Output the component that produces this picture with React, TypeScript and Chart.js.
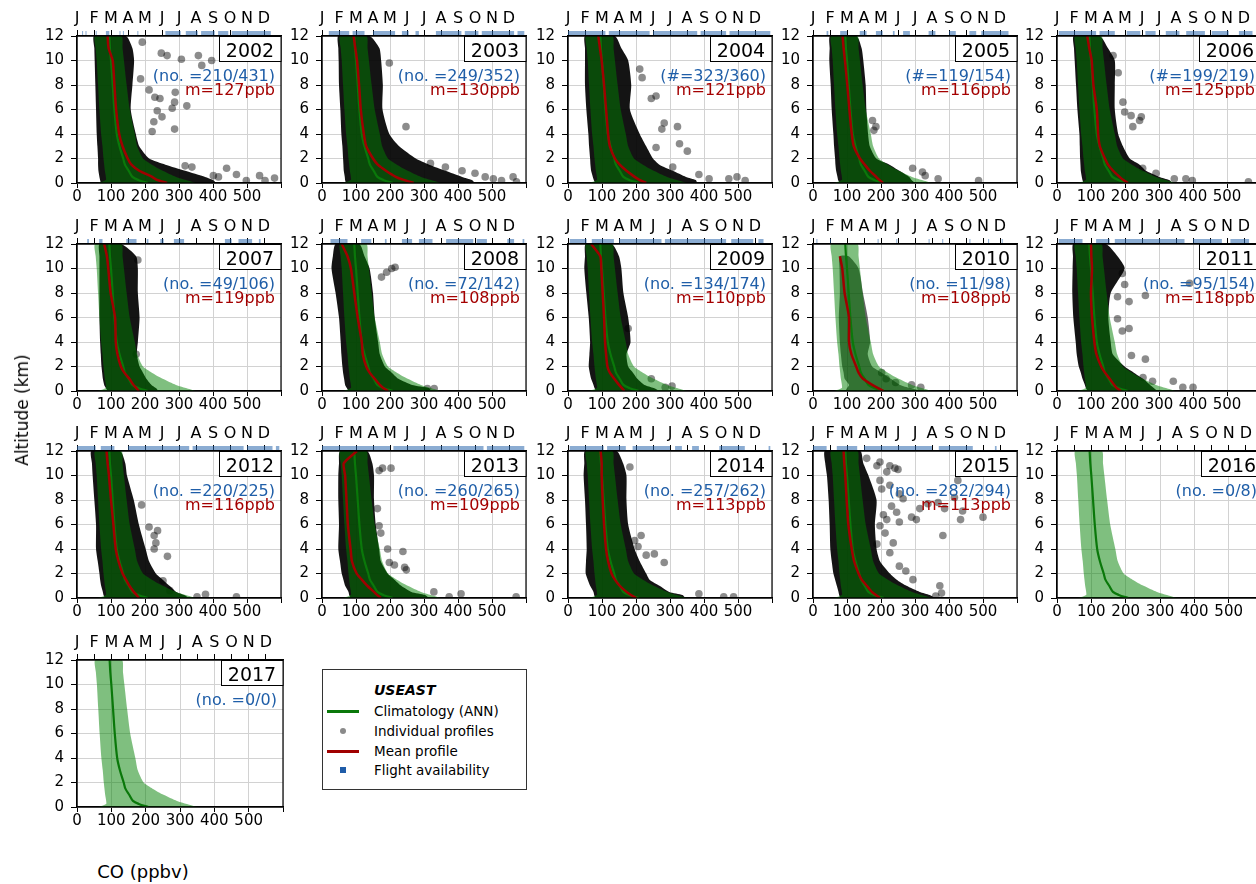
import React, { useEffect, useRef } from "react";
import { Chart, registerables } from "chart.js";

Chart.register(...registerables);

const FONT = "'DejaVu Sans', 'Liberation Sans', sans-serif";

// ---------- categories / labels ----------
const YEARS = [2002, 2003, 2004, 2005, 2006, 2007, 2008, 2009, 2010, 2011, 2012, 2013, 2014, 2015, 2016, 2017];
const MONTHS = ["J", "F", "M", "A", "M", "J", "J", "A", "S", "O", "N", "D"];
const CO_TICKS = [0, 100, 200, 300, 400, 500];
const ALT_TICKS = [0, 2, 4, 6, 8, 10, 12];

const COUNT_LABELS = [
  "(no. =210/431)", "(no. =249/352)", "(#=323/360)", "(#=119/154)", "(#=199/219)",
  "(no. =49/106)", "(no. =72/142)", "(no. =134/174)", "(no. =11/98)", "(no. =95/154)",
  "(no. =220/225)", "(no. =260/265)", "(no. =257/262)", "(no. =282/294)", "(no. =0/8)", "(no. =0/0)",
];
const MEAN_LABELS = [
  "m=127ppb", "m=130ppb", "m=121ppb", "m=116ppb", "m=125ppb",
  "m=119ppb", "m=108ppb", "m=110ppb", "m=108ppb", "m=118ppb",
  "m=116ppb", "m=109ppb", "m=113ppb", "m=113ppb", "", "",
];

// ---------- altitude levels (km) ----------
const ALT = [0, 0.25, 0.5, 1, 1.5, 2, 3, 4, 6, 8, 10, 11, 12];

// ---------- climatology (ANN), ppbv ----------
const CLIM_MEAN = [208, 180, 163, 152, 141, 136, 125, 117, 110, 105, 100, 97, 95];
const CLIM_LO = [62, 85, 85, 82, 80, 78, 75, 71, 66, 62, 58, 55, 53];
const CLIM_HI = [350, 320, 291, 252, 220, 194, 177, 170, 155, 146, 138, 134, 131];

// ---------- individual profile envelope (low edge), per year ----------
const CLOUD_LO = [
  [70, 68, 66, 63, 62, 62, 60, 58, 56, 54, 52, 51, 50],
  [70, 68, 67, 64, 63, 62, 60, 57, 54, 50, 49, 48, 48],
  [80, 76, 73, 68, 66, 65, 62, 60, 54, 50, 50, 50, 50],
  [78, 74, 72, 68, 66, 65, 62, 60, 55, 52, 48, 49, 50],
  [78, 75, 73, 70, 69, 68, 67, 66, 60, 56, 52, 50, 49],
  [90, 85, 80, 76, 74, 72, 70, 68, 66, 66, 66, 66, 66],
  [78, 73, 68, 65, 62, 60, 57, 55, 50, 40, 28, 32, 40],
  [82, 78, 75, 68, 64, 61, 63, 65, 61, 54, 48, 50, 52],
  [95, 100, 106, 93, 90, 86, 82, 79, 76, 79, 78, 78, null],
  [90, 85, 82, 75, 70, 64, 58, 55, 48, 45, 46, 47, 48],
  [82, 78, 76, 71, 68, 66, 61, 56, 56, 51, 46, 44, 42],
  [84, 80, 78, 68, 63, 58, 53, 48, 50, 48, 48, 50, 53],
  [80, 77, 75, 65, 58, 52, 53, 55, 53, 50, 46, 48, 50],
  [80, 77, 75, 70, 65, 60, 55, 51, 49, 46, 41, 36, 35],
  null,
  null,
];

// ---------- individual profile envelope (high edge), per year ----------
const CLOUD_HI = [
  [410, 400, 377, 318, 260, 212, 183, 173, 158, 163, 168, 163, 144],
  [450, 441, 412, 363, 315, 276, 227, 198, 178, 179, 174, 169, 140],
  [380, 376, 347, 308, 269, 250, 230, 211, 182, 186, 177, 157, 138],
  [300, 290, 283, 254, 225, 186, 167, 162, 157, 155, 148, 143, 128],
  [340, 330, 301, 262, 243, 214, 194, 180, 170, 170, 170, 150, 126],
  [240, 232, 219, 204, 194, 184, 176, 179, 184, 179, 179, 174, 130],
  [320, 315, 265, 225, 205, 185, 170, 165, 155, 150, 140, 125, 110],
  [270, 252, 225, 204, 191, 177, 172, 184, 177, 163, 157, 150, 129],
  [320, 285, 256, 229, 202, 174, 161, 168, 161, 147, 134, 105, null],
  [295, 285, 274, 253, 226, 199, 164, 158, 151, 158, 199, 178, 144],
  [330, 315, 292, 272, 252, 232, 212, 202, 182, 167, 147, 142, 127],
  [315, 303, 263, 233, 213, 193, 173, 168, 158, 153, 153, 148, 133],
  [345, 337, 298, 269, 240, 230, 211, 196, 177, 172, 172, 162, 143],
  [360, 343, 314, 275, 246, 226, 197, 187, 182, 187, 163, 148, 139],
  null,
  null,
];

// ---------- mean profile, per year ----------
const MEAN_PROFILE = [
  [265, 235, 221, 183, 160, 149, 134, 124, 115, 110, 105, 93, 90],
  [270, 240, 217, 188, 164, 150, 130, 123, 114, 109, 103, 98, 93],
  [230, 210, 196, 172, 152, 138, 123, 118, 112, 106, 99, 94, 89],
  [206, 195, 186, 167, 152, 138, 120, 114, 107, 101, 94, 90, 87],
  [209, 195, 184, 165, 150, 141, 126, 121, 117, 107, 102, 95, 89],
  [182, 174, 166, 154, 139, 129, 119, 114, 112, 99, 92, 88, 80],
  [195, 180, 170, 155, 140, 130, 120, 117, 105, 95, 85, 75, 58],
  [166, 158, 150, 136, 123, 116, 112, 109, 106, 102, 98, 95, 68],
  [208, 190, 174, 147, 134, 127, 113, 106, 106, 93, 86, 79, null],
  [188, 175, 168, 155, 141, 130, 116, 110, 103, 100, 103, 101, 100],
  [182, 175, 167, 154, 144, 134, 122, 114, 107, 100, 94, 90, 87],
  [173, 162, 153, 133, 117, 102, 88, 84, 76, 72, 68, 64, 103],
  [201, 185, 172, 152, 138, 128, 118, 112, 106, 102, 99, 99, 96],
  [197, 185, 173, 158, 143, 134, 121, 114, 104, 99, 95, 92, 90],
  null,
  null,
];

// ---------- sparse individual profile points [CO ppbv, altitude km] ----------
const OUTLIERS = [
  [[248, 10.6], [265, 10.4], [357, 10.4], [307, 10.1], [367, 9.6], [396, 10.0], [192, 11.5], [187, 8.5], [212, 7.6], [229, 7.0], [244, 6.9], [289, 7.4], [287, 6.6], [280, 6.1], [323, 6.3], [236, 5.9], [250, 5.4], [221, 4.2], [287, 4.4], [226, 5.0], [318, 1.4], [338, 1.3], [401, 0.6], [440, 1.2], [469, 0.7], [416, 0.5], [498, 0.2], [537, 0.6], [553, 0.2], [581, 0.4]],
  [[198, 9.8], [247, 4.6], [319, 1.6], [363, 1.3], [412, 1.0], [450, 0.8], [480, 0.5], [504, 0.35], [528, 0.2], [562, 0.5], [572, 0.1]],
  [[211, 9.3], [218, 8.6], [245, 6.9], [259, 7.1], [276, 4.4], [283, 4.9], [322, 4.6], [328, 3.2], [351, 2.6], [259, 2.9], [385, 0.7], [415, 0.35], [473, 0.35], [497, 0.5], [521, 0.2], [308, 1.3]],
  [[175, 5.1], [185, 4.6], [179, 4.3], [293, 1.2], [322, 0.9], [330, 0.6], [368, 0.35], [487, 0.2]],
  [[165, 10.4], [180, 9.0], [194, 6.6], [199, 5.8], [218, 5.5], [248, 5.4], [243, 5.1], [223, 4.6], [252, 1.2], [291, 0.8], [345, 0.35], [379, 0.35], [398, 0.2], [563, 0.1]],
  [[179, 10.7], [174, 3.0]],
  [[175, 9.3], [190, 9.7], [205, 10.0], [215, 10.1], [310, 0.2], [330, 0.2]],
  [[245, 1.0], [286, 0.3], [306, 0.4], [177, 5.1]],
  [[215, 1.0], [243, 0.7], [290, 0.5], [317, 0.3], [202, 1.5]],
  [[192, 9.6], [199, 8.7], [178, 7.7], [260, 7.8], [178, 5.9], [192, 4.9], [212, 5.1], [219, 2.9], [260, 2.6], [253, 1.1], [281, 0.8], [342, 0.8], [370, 0.3], [400, 0.3], [390, 8.8], [212, 7.3]],
  [[190, 7.6], [212, 5.8], [237, 5.5], [227, 5.1], [232, 4.5], [227, 4.0], [266, 3.4], [253, 1.4], [273, 0.6], [353, 0.1], [378, 0.3], [469, 0.1]],
  [[168, 10.4], [178, 10.6], [203, 10.6], [163, 7.3], [168, 5.9], [173, 5.3], [193, 4.0], [198, 2.9], [213, 2.7], [238, 3.8], [243, 2.5], [248, 2.3], [329, 0.5], [374, 0.1], [409, 0.35], [571, 0.1]],
  [[215, 5.1], [196, 4.7], [206, 4.2], [254, 3.6], [283, 2.9], [230, 3.5], [385, 0.35], [458, 0.1], [487, 0.1], [182, 10.7]],
  [[158, 11.4], [197, 11.1], [188, 10.8], [226, 10.8], [241, 10.6], [250, 10.5], [217, 10.3], [197, 9.6], [202, 8.9], [226, 9.2], [254, 8.5], [265, 8.1], [231, 7.5], [246, 7.0], [207, 6.8], [217, 6.4], [197, 5.9], [254, 6.2], [290, 6.6], [304, 6.4], [314, 7.3], [338, 7.7], [368, 7.8], [387, 7.3], [416, 8.2], [426, 9.6], [440, 7.1], [434, 6.4], [500, 6.6], [236, 4.5], [226, 3.7], [254, 2.6], [273, 2.2], [294, 1.5], [378, 0.4], [382, 5.1], [373, 1.0], [361, 0.15], [212, 5.3], [188, 4.4]],
  [],
  [],
];

// ---------- flight availability periods, [start, end] in months from 1 Jan ----------
const FLIGHTS = [
  [[0.3, 0.35], [0.5, 0.55], [1.1, 1.15], [1.7, 1.9], [2.5, 2.55], [2.7, 2.75], [3.55, 3.6], [5.2, 6.1], [6.4, 7.1], [7.3, 8.1], [8.3, 8.9], [9.1, 11.4]],
  [[0.4, 1.6], [1.8, 2.5], [3.0, 4.3], [4.7, 5.1], [5.5, 5.7], [6.7, 8.2], [8.4, 9.2], [9.4, 11.3], [11.5, 11.9]],
  [[0.0, 2.2], [2.4, 4.8], [5.0, 7.6], [7.8, 9.3], [9.5, 11.9]],
  [[0.8, 0.9], [1.6, 2.0], [2.75, 3.15], [3.7, 4.1], [4.7, 4.8], [5.3, 5.7], [6.8, 7.2], [8.0, 8.4], [9.2, 9.6], [9.9, 11.5]],
  [[0.1, 2.3], [2.5, 3.4], [4.1, 4.9], [5.2, 5.8], [6.4, 7.2], [7.6, 8.7], [9.1, 10.1], [10.7, 11.5]],
  [[0.6, 0.7], [1.3, 1.5], [2.9, 3.5], [4.1, 4.2], [4.9, 5.1], [5.7, 6.3], [8.7, 9.1], [9.5, 10.3], [10.7, 10.8]],
  [[0.5, 1.5], [2.3, 2.9], [3.7, 3.8], [4.7, 5.3], [5.7, 6.5], [7.3, 8.9], [9.1, 9.7], [10.9, 11.3], [11.8, 11.9]],
  [[0.1, 1.1], [1.4, 2.7], [3.0, 5.5], [5.7, 9.3], [9.6, 10.9], [11.2, 11.5]],
  [[0.2, 0.25], [1.0, 1.05], [3.8, 3.85], [4.9, 4.95], [6.8, 6.85], [7.6, 7.65], [9.2, 9.25], [10.3, 10.35], [11.1, 11.15]],
  [[0.1, 1.5], [2.3, 3.1], [3.4, 7.5], [8.0, 9.7], [10.2, 11.3]],
  [[0.0, 1.1], [1.4, 2.2], [3.0, 6.6], [6.8, 9.8], [10.0, 11.5], [11.7, 11.9]],
  [[0.0, 4.0], [4.2, 9.5], [9.7, 11.9]],
  [[0.1, 2.1], [2.3, 3.4], [3.8, 6.0], [6.3, 6.7], [7.3, 7.7], [8.9, 10.4], [11.8, 11.9]],
  [[0.0, 0.8], [1.4, 2.6], [3.0, 7.0], [7.4, 9.4], [10.7, 10.8]],
  [],
  [],
];

// ---------- layout ----------
const COL_X = [77, 322, 568, 813, 1057];
const ROW_Y = [36, 244, 451, 660];
const PLOT_W = 206;
const PLOT_H = 147;
const LEFT_AX = 52;
const TOP_AX = 36;
const BOTTOM_AX = 24;
const RIGHT_PAD = 2;

const BLUE = "#1f5ea8";
const RED = "#a40000";

function profilePoints(values) {
  const pts = [];
  ALT.forEach((a, k) => {
    if (values[k] != null) pts.push({ x: values[k], y: a });
  });
  return pts;
}

function polygonPoints(lo, hi) {
  const pts = [];
  for (let k = 0; k < ALT.length; k++) if (lo[k] != null) pts.push({ x: lo[k], y: ALT[k] });
  for (let k = ALT.length - 1; k >= 0; k--) if (hi[k] != null) pts.push({ x: hi[k], y: ALT[k] });
  return pts;
}

function makeOverlay(i) {
  return {
    id: "overlay" + i,
    afterDraw(chart) {
      const { ctx, chartArea: a, scales } = chart;
      const xt = scales.xt;
      ctx.save();
      // flight availability rug
      ctx.fillStyle = "rgba(44,104,173,0.55)";
      FLIGHTS[i].forEach(([s, e]) => {
        const x0 = xt.getPixelForValue(s);
        const x1 = xt.getPixelForValue(e);
        ctx.fillRect(x0, a.top - 5, Math.max(1, x1 - x0), 4);
      });
      // frame
      ctx.strokeStyle = "#000";
      ctx.lineWidth = 1.2;
      ctx.strokeRect(a.left, a.top, a.right - a.left, a.bottom - a.top);
      // year box
      const bw = 62;
      const bh = 25;
      ctx.fillStyle = "#fff";
      ctx.fillRect(a.right - bw, a.top, bw, bh);
      ctx.lineWidth = 1;
      ctx.strokeRect(a.right - bw + 0.5, a.top + 0.5, bw - 0.5, bh);
      ctx.fillStyle = "#000";
      ctx.font = `19px ${FONT}`;
      ctx.textAlign = "center";
      ctx.textBaseline = "alphabetic";
      ctx.fillText(String(YEARS[i]), a.right - bw / 2, a.top + 21);
      // annotations
      ctx.textAlign = "right";
      ctx.font = `16px ${FONT}`;
      ctx.fillStyle = BLUE;
      ctx.fillText(COUNT_LABELS[i], a.right - 6, a.top + 45);
      if (MEAN_LABELS[i]) {
        ctx.fillStyle = RED;
        ctx.fillText(MEAN_LABELS[i], a.right - 6, a.top + 59);
      }
      ctx.restore();
    },
  };
}

function buildConfig(i) {
  const datasets = [];
  const out = OUTLIERS[i];
  if (out.length) {
    datasets.push({
      data: out.map(([x, y]) => ({ x, y })),
      showLine: false,
      pointRadius: 3.8,
      pointBackgroundColor: "rgba(0,0,0,0.45)",
      pointBorderWidth: 0,
      pointBorderColor: "transparent",
      order: 5,
    });
  }
  if (CLOUD_LO[i]) {
    datasets.push({
      data: polygonPoints(CLOUD_LO[i], CLOUD_HI[i]),
      fill: "shape",
      backgroundColor: YEARS[i] === 2010 ? "rgba(0,0,0,0.6)" : "rgba(0,0,0,0.92)",
      borderColor: "transparent",
      borderWidth: 0,
      pointRadius: 0,
      tension: 0.2,
      order: 4,
    });
  }
  datasets.push({
    data: polygonPoints(CLIM_LO, CLIM_HI),
    fill: "shape",
    backgroundColor: "rgba(0,128,0,0.5)",
    borderColor: "transparent",
    borderWidth: 0,
    pointRadius: 0,
    tension: 0.2,
    order: 3,
  });
  datasets.push({
    data: profilePoints(CLIM_MEAN),
    borderColor: "#0a780a",
    borderWidth: 2.2,
    pointRadius: 0,
    fill: false,
    tension: 0.3,
    order: 2,
  });
  if (MEAN_PROFILE[i]) {
    datasets.push({
      data: profilePoints(MEAN_PROFILE[i]),
      borderColor: "#a00000",
      borderWidth: 2.5,
      pointRadius: 0,
      fill: false,
      tension: 0.2,
      order: 1,
    });
  }
  datasets.forEach((d) => {
    d.type = "line";
    d.xAxisID = "x";
    d.yAxisID = "y";
  });

  const tickFont = { family: FONT, size: 15 };
  return {
    type: "line",
    data: { datasets },
    plugins: [makeOverlay(i)],
    options: {
      animation: false,
      responsive: false,
      events: [],
      layout: { padding: { left: 0, right: RIGHT_PAD, top: 0, bottom: 0 } },
      plugins: { legend: { display: false }, tooltip: { enabled: false } },
      scales: {
        x: {
          type: "linear",
          position: "bottom",
          min: 0,
          max: 600,
          afterFit: (s) => {
            s.height = BOTTOM_AX;
          },
          afterBuildTicks: (s) => {
            s.ticks = CO_TICKS.concat([600]).map((v) => ({ value: v }));
          },
          ticks: {
            autoSkip: false,
            maxRotation: 0,
            padding: 0,
            color: "#000",
            font: tickFont,
            callback: (v) => (v <= 500 ? String(v) : ""),
          },
          grid: { color: "#d2d2d2", lineWidth: 1, tickColor: "#000", tickLength: 5 },
          border: { color: "#000", width: 1.2 },
        },
        y: {
          type: "linear",
          position: "left",
          min: 0,
          max: 12,
          afterFit: (s) => {
            s.width = LEFT_AX;
          },
          afterBuildTicks: (s) => {
            s.ticks = ALT_TICKS.map((v) => ({ value: v }));
          },
          ticks: { padding: 7, color: "#000", font: tickFont },
          grid: { color: "#d2d2d2", lineWidth: 1, tickColor: "#000", tickLength: 6 },
          border: { color: "#000", width: 1.2 },
        },
        xt: {
          type: "linear",
          position: "top",
          min: 0,
          max: 12,
          afterFit: (s) => {
            s.height = TOP_AX;
          },
          afterBuildTicks: (s) => {
            s.ticks = MONTHS.map((m, k) => ({ value: k }));
          },
          ticks: {
            autoSkip: false,
            maxRotation: 0,
            padding: 2,
            color: "#000",
            font: { family: FONT, size: 16 },
            callback: (v) => MONTHS[v] ?? "",
          },
          grid: { drawOnChartArea: false, tickColor: "#000", tickLength: 6 },
          border: { color: "#000", width: 1.2 },
        },
      },
    },
  };
}

function Panel({ index }) {
  const ref = useRef(null);
  const col = index % 5;
  const row = Math.floor(index / 5);
  const left = COL_X[col] - LEFT_AX;
  const top = ROW_Y[row] - TOP_AX;
  const width = LEFT_AX + PLOT_W + RIGHT_PAD;
  const height = TOP_AX + PLOT_H + BOTTOM_AX;
  useEffect(() => {
    const chart = new Chart(ref.current, buildConfig(index));
    return () => chart.destroy();
  }, [index]);
  return (
    <div style={{ position: "absolute", left, top, width, height }}>
      <canvas ref={ref} width={width} height={height} />
    </div>
  );
}

function Legend() {
  const rowY = [41, 61, 81, 100];
  const text = { position: "absolute", left: 51, fontSize: 13.5, lineHeight: "16px", whiteSpace: "nowrap", color: "#000" };
  return (
    <div
      style={{
        position: "absolute",
        left: 322,
        top: 669,
        width: 205,
        height: 121,
        boxSizing: "border-box",
        border: "1px solid #333",
        background: "#fff",
        fontFamily: FONT,
      }}
    >
      <div style={{ ...text, top: 20 - 8, fontWeight: "bold", fontStyle: "italic", fontSize: 14 }}>USEAST</div>
      <div style={{ position: "absolute", left: 4, top: rowY[0] - 1, width: 32, height: 2.5, background: "#0a780a" }} />
      <div style={{ ...text, top: rowY[0] - 8 }}>Climatology (ANN)</div>
      <div style={{ position: "absolute", left: 17, top: rowY[1] - 3, width: 6, height: 6, borderRadius: "50%", background: "#8a8a8a" }} />
      <div style={{ ...text, top: rowY[1] - 8 }}>Individual profiles</div>
      <div style={{ position: "absolute", left: 4, top: rowY[2] - 1, width: 32, height: 2.5, background: "#a00000" }} />
      <div style={{ ...text, top: rowY[2] - 8 }}>Mean profile</div>
      <div style={{ position: "absolute", left: 17, top: rowY[3] - 3, width: 6, height: 6, background: "#1f5ca8" }} />
      <div style={{ ...text, top: rowY[3] - 8 }}>Flight availability</div>
    </div>
  );
}

export default function App() {
  return (
    <div
      style={{
        position: "absolute",
        left: 0,
        top: 0,
        width: 1256,
        height: 884,
        overflow: "hidden",
        background: "#fff",
        fontFamily: FONT,
      }}
    >
      {YEARS.map((y, i) => (
        <Panel key={y} index={i} />
      ))}
      <Legend />
      <div
        style={{
          position: "absolute",
          left: 22,
          top: 410,
          transform: "translate(-50%, -50%) rotate(-90deg)",
          fontSize: 17,
          whiteSpace: "nowrap",
        }}
      >
        Altitude (km)
      </div>
      <div
        style={{
          position: "absolute",
          left: 143,
          top: 871,
          transform: "translate(-50%, -50%)",
          fontSize: 18,
          whiteSpace: "nowrap",
        }}
      >
        CO (ppbv)
      </div>
    </div>
  );
}
